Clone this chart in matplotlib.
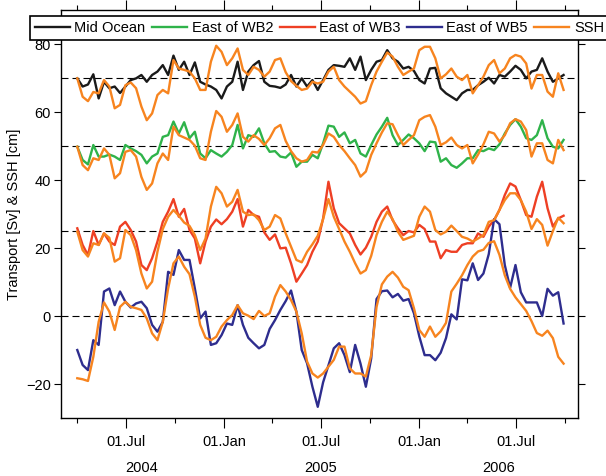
import numpy as np
import matplotlib
matplotlib.use("Agg")
import matplotlib.pyplot as plt
import matplotlib.dates as mdates


plt.rcParams["font.family"] = ["Liberation Sans", "DejaVu Sans"]
plt.rcParams["font.size"] = 10.5


# data: 10-day samples starting 01 Apr 2004
start_date = "2004-04-01"
step_days = 10

mid_ocean = [69.9, 67.5, 68.1, 71.1, 64.0, 68.9, 67.0, 67.5, 65.6, 67.5,
             69.4, 69.9, 70.9, 68.9, 70.9, 71.9, 73.8, 70.9, 76.6, 72.4,
             74.8, 70.9, 74.6, 68.9, 68.1, 67.5, 66.5, 64.0, 67.5, 68.9,
             74.8, 66.5, 71.9, 73.8, 75.0, 68.9, 67.7, 67.5, 67.1, 68.1,
             70.9, 67.5, 69.9, 67.5, 69.4, 66.5, 69.4, 72.4, 73.8, 73.6,
             73.3, 75.8, 72.4, 76.3, 69.4, 72.4, 74.8, 75.3, 78.2, 75.8,
             74.8, 72.8, 73.3, 72.1, 69.4, 68.4, 72.8, 73.0, 67.0, 65.5,
             64.5, 63.5, 65.5, 66.5, 66.5, 67.9, 68.9, 70.1, 68.4, 70.9,
             70.4, 71.9, 73.6, 72.4, 69.9, 71.9, 72.4, 75.8, 71.9, 68.9,
             69.9, 70.9]
ssh_mid = [69.9, 64.5, 63.2, 65.9, 65.5, 69.4, 67.5, 61.1, 62.1, 67.9,
           68.7, 67.0, 61.6, 57.6, 59.6, 65.0, 66.5, 65.5, 75.3, 72.8,
           72.4, 71.9, 69.9, 66.5, 66.5, 74.8, 79.5, 77.7, 73.8, 75.8,
           78.7, 72.4, 70.9, 73.3, 72.4, 70.4, 71.9, 75.3, 75.8, 71.7,
           69.1, 67.7, 66.5, 66.9, 68.9, 68.4, 68.9, 71.9, 73.3, 69.4,
           67.5, 66.0, 64.5, 62.5, 63.2, 67.9, 71.9, 74.8, 77.5, 76.3,
           73.3, 70.9, 71.9, 72.8, 78.2, 79.2, 79.2, 75.8, 69.9, 71.1,
           72.8, 70.4, 69.4, 70.9, 65.5, 67.9, 70.4, 73.8, 75.3, 71.4,
           72.8, 75.8, 76.8, 76.3, 74.3, 66.9, 70.9, 70.9, 66.0, 64.5,
           71.4, 66.5]
wb2 = [49.8, 45.9, 44.6, 50.3, 46.9, 46.9, 47.5, 46.9, 45.9, 50.3,
       49.3, 48.5, 47.4, 44.9, 46.9, 47.8, 52.7, 53.2, 57.2, 53.7,
       57.0, 52.3, 54.2, 47.8, 46.4, 48.8, 47.8, 46.9, 48.3, 50.3,
       56.2, 49.3, 53.2, 52.7, 55.2, 50.8, 48.3, 48.5, 46.9, 46.6,
       48.1, 43.9, 45.4, 45.4, 47.4, 46.4, 50.8, 56.0, 55.7, 52.7,
       54.0, 50.8, 51.8, 47.8, 46.9, 50.3, 53.4, 55.7, 58.3, 53.2,
       50.3, 51.8, 53.4, 52.3, 50.8, 48.5, 51.3, 51.1, 45.4, 46.4,
       44.4, 43.6, 44.9, 46.4, 46.4, 48.8, 48.5, 49.3, 48.8, 50.5,
       53.7, 56.2, 57.9, 55.7, 52.3, 51.8, 53.2, 57.6, 52.3, 49.8,
       49.3, 51.8]
ssh_wb2 = [49.8, 44.4, 42.9, 46.4, 45.9, 49.3, 47.4, 40.5, 42.0, 48.3,
           48.8, 46.9, 40.9, 37.1, 39.0, 44.9, 47.8, 45.9, 55.7, 53.2,
           52.5, 51.8, 50.1, 46.4, 45.9, 54.2, 60.3, 58.6, 54.2, 56.2,
           59.6, 52.7, 51.3, 53.2, 52.1, 50.3, 52.3, 55.2, 56.2, 51.5,
           48.5, 46.4, 45.4, 45.9, 48.3, 48.1, 50.3, 53.7, 52.7, 50.3,
           48.5, 46.4, 44.4, 41.0, 42.5, 47.4, 50.8, 54.0, 56.7, 56.4,
           53.2, 50.3, 51.8, 53.2, 57.6, 58.6, 59.1, 55.7, 50.3, 51.1,
           52.5, 50.3, 49.3, 50.3, 44.9, 47.5, 50.5, 54.2, 53.7, 51.3,
           53.2, 56.7, 57.9, 57.2, 54.7, 46.9, 50.8, 50.8, 45.9, 44.9,
           51.8, 48.8]
wb3 = [25.8, 20.9, 17.9, 25.0, 20.9, 24.3, 21.9, 20.9, 26.3, 27.7,
       25.3, 21.9, 15.0, 13.5, 17.0, 21.9, 27.7, 30.7, 34.4, 29.2,
       31.5, 25.3, 22.8, 15.5, 21.9, 26.3, 28.4, 27.0, 28.5, 30.7,
       34.4, 26.3, 31.2, 29.7, 29.2, 24.6, 22.4, 24.0, 19.9, 20.1,
       15.5, 10.1, 12.5, 15.0, 18.9, 21.9, 28.7, 39.5, 31.7, 27.3,
       25.8, 24.3, 20.9, 18.1, 20.1, 23.3, 27.7, 30.7, 32.2, 28.2,
       25.8, 23.8, 25.0, 24.6, 26.8, 25.6, 21.9, 21.9, 17.0, 19.4,
       18.9, 18.9, 20.9, 21.4, 21.4, 24.3, 23.3, 26.3, 28.2, 31.2,
       35.6, 39.0, 38.1, 34.1, 29.7, 29.2, 35.1, 39.5, 31.7, 26.3,
       28.7, 29.5]
ssh_wb3 = [24.8, 19.4, 17.5, 21.4, 20.9, 24.3, 23.0, 16.0, 17.0, 25.3,
           23.8, 19.4, 12.5, 8.1, 10.1, 18.9, 25.6, 29.2, 31.2, 29.5,
           27.5, 26.5, 23.8, 19.4, 22.8, 32.2, 38.0, 36.1, 32.2, 33.6,
           37.1, 30.7, 29.7, 29.9, 28.2, 25.3, 26.3, 29.7, 28.7, 24.3,
           20.4, 16.5, 15.8, 18.9, 21.1, 23.6, 28.5, 34.4, 29.2, 25.6,
           21.9, 18.9, 15.5, 12.5, 13.5, 17.7, 23.8, 27.7, 30.7, 28.5,
           24.8, 22.4, 23.0, 23.6, 29.2, 32.2, 30.7, 25.3, 24.0, 24.8,
           26.6, 25.0, 23.3, 22.8, 21.9, 22.8, 23.8, 27.7, 28.2, 31.2,
           34.1, 36.1, 36.1, 34.1, 30.7, 25.6, 28.5, 26.8, 20.7, 25.0,
           28.9, 27.3]
wb5 = [-10.0, -14.4, -15.9, -7.1, -8.5, 7.2, 8.1, 3.2, 7.2, 4.2,
       2.5, 3.7, 4.2, 2.3, -2.6, -4.6, -1.7, 13.0, 12.1, 19.4,
       16.5, 16.5, 8.1, -0.7, 1.3, -8.5, -8.0, -5.6, -2.2, -2.6,
       3.2, -2.6, -6.4, -8.0, -9.5, -8.5, -3.8, -1.2, 1.8, 4.4,
       7.5, 1.3, -10.0, -13.9, -20.8, -26.7, -19.5, -14.5, -9.5, -8.0,
       -11.5, -16.5, -8.5, -14.0, -20.8, -12.5, 5.0, 7.3, 7.5, 5.5,
       6.5, 4.5, 5.0, 0.8, -6.0, -11.5, -11.5, -13.0, -10.8, -6.5,
       0.5, -1.0, 10.8, 10.5, 15.5, 10.6, 12.5, 18.2, 28.5, 27.0,
       15.0, 8.3, 15.0, 7.0, 4.0, 4.0, 4.0, 0.0, 8.0, 6.0,
       7.0, -2.2]
ssh_wb5 = [-18.3, -18.6, -19.1, -12.0, -1.7, 4.0, 1.3, -4.1, 2.7, 4.2,
           2.7, 2.3, 1.8, -0.7, -5.1, -7.1, -1.7, 8.1, 15.5, 17.5,
           14.5, 12.3, 5.7, -2.6, -6.4, -7.1, -6.1, -3.1, -1.2, 0.3,
           3.2, 0.8, 0.1, -0.9, 1.5, 0.0, 0.8, 5.7, 9.1, 7.2,
           4.7, 1.3, -5.1, -13.4, -16.9, -18.1, -16.9, -14.9, -12.9, -9.0,
           -9.0, -15.4, -16.9, -16.9, -17.8, -11.5, 2.7, 9.3, 11.6, 13.0,
           11.3, 8.6, 7.6, 2.3, -4.1, -6.1, -3.1, -6.1, -4.5, -2.0,
           7.2, 9.5, 12.0, 15.0, 17.5, 19.0, 19.5, 21.5, 22.0, 18.0,
           12.0, 8.0, 5.5, 3.5, 1.5, -1.5, -5.0, -5.8, -4.3, -6.5,
           -12.0, -14.0]

ref_levels = [70, 50, 25, 0]
series_labels = ["Mid Ocean", "East of WB2", "East of WB3", "East of WB5"]
series_colors = ["#1a1a1a", "#2fb34a", "#ee3f24", "#2e2d8e"]
ssh_color = "#f7841f"

month_labels = "%d.%b"
year_labels = ["2004", "2005", "2006"]
year_centers = ["2004-07-31", "2005-07-01", "2006-05-29"]

dates = np.datetime64(start_date) + np.arange(len(mid_ocean)) * np.timedelta64(step_days, "D")


# plot figure
fig = plt.figure(figsize=(6.06, 4.76), dpi=100)
ax = fig.add_axes([0.1002, 0.1218, 0.8536, 0.8571])

for level in ref_levels:
    ax.axhline(level, color="k", lw=0.8, ls=(0, (6.3, 3.6)), zorder=1)

transports = [mid_ocean, wb2, wb3, wb5]
sshs = [ssh_mid, ssh_wb2, ssh_wb3, ssh_wb5]
handles = []
for i, (tr, ssh) in enumerate(zip(transports, sshs)):
    h, = ax.plot(dates, tr, color=series_colors[i], lw=1.7, label=series_labels[i],
                 solid_joinstyle="round", zorder=2)
    handles.append(h)
    hs, = ax.plot(dates, ssh, color=ssh_color, lw=1.7, label="SSH",
                  solid_joinstyle="round", zorder=3)
handles.append(hs)

ax.set_xlim(np.datetime64("2004-03-01"), np.datetime64("2006-10-25"))
ax.set_ylim(-30, 90)
ax.set_yticks(np.arange(-20, 81, 20))

ax.xaxis.set_major_locator(mdates.MonthLocator(bymonth=[1, 7]))
ax.xaxis.set_minor_locator(mdates.MonthLocator(bymonth=[4, 10]))
ax.xaxis.set_major_formatter(mdates.DateFormatter(month_labels))

ax.tick_params(axis="y", which="both", direction="out", left=True, right=True,
               length=5, width=0.8, pad=2)
ax.tick_params(axis="x", which="major", direction="out", top=True, bottom=True,
               length=7, width=0.8, pad=5)
ax.tick_params(axis="x", which="minor", direction="out", top=True, bottom=True,
               length=3.6, width=0.8)
for sp in ax.spines.values():
    sp.set_linewidth(1.0)

for yr, mid in zip(year_labels, year_centers):
    ax.text(mdates.date2num(np.datetime64(mid)), -0.1225, yr,
            transform=ax.get_xaxis_transform(), ha="center", va="center")

ax.set_ylabel("Transport [Sv] & SSH [cm]", labelpad=4)

leg = ax.legend(handles=handles, loc="upper left", bbox_to_anchor=(30 / 606, 1 - 16 / 476),
                bbox_transform=fig.transFigure, ncol=5, frameon=True, fancybox=False,
                edgecolor="k", framealpha=1, handlelength=2.4, handletextpad=0.3,
                columnspacing=0.45, borderpad=0.35, borderaxespad=0, fontsize=10.5)
leg.get_frame().set_linewidth(1.2)

fig.savefig("out.png", dpi=100)
